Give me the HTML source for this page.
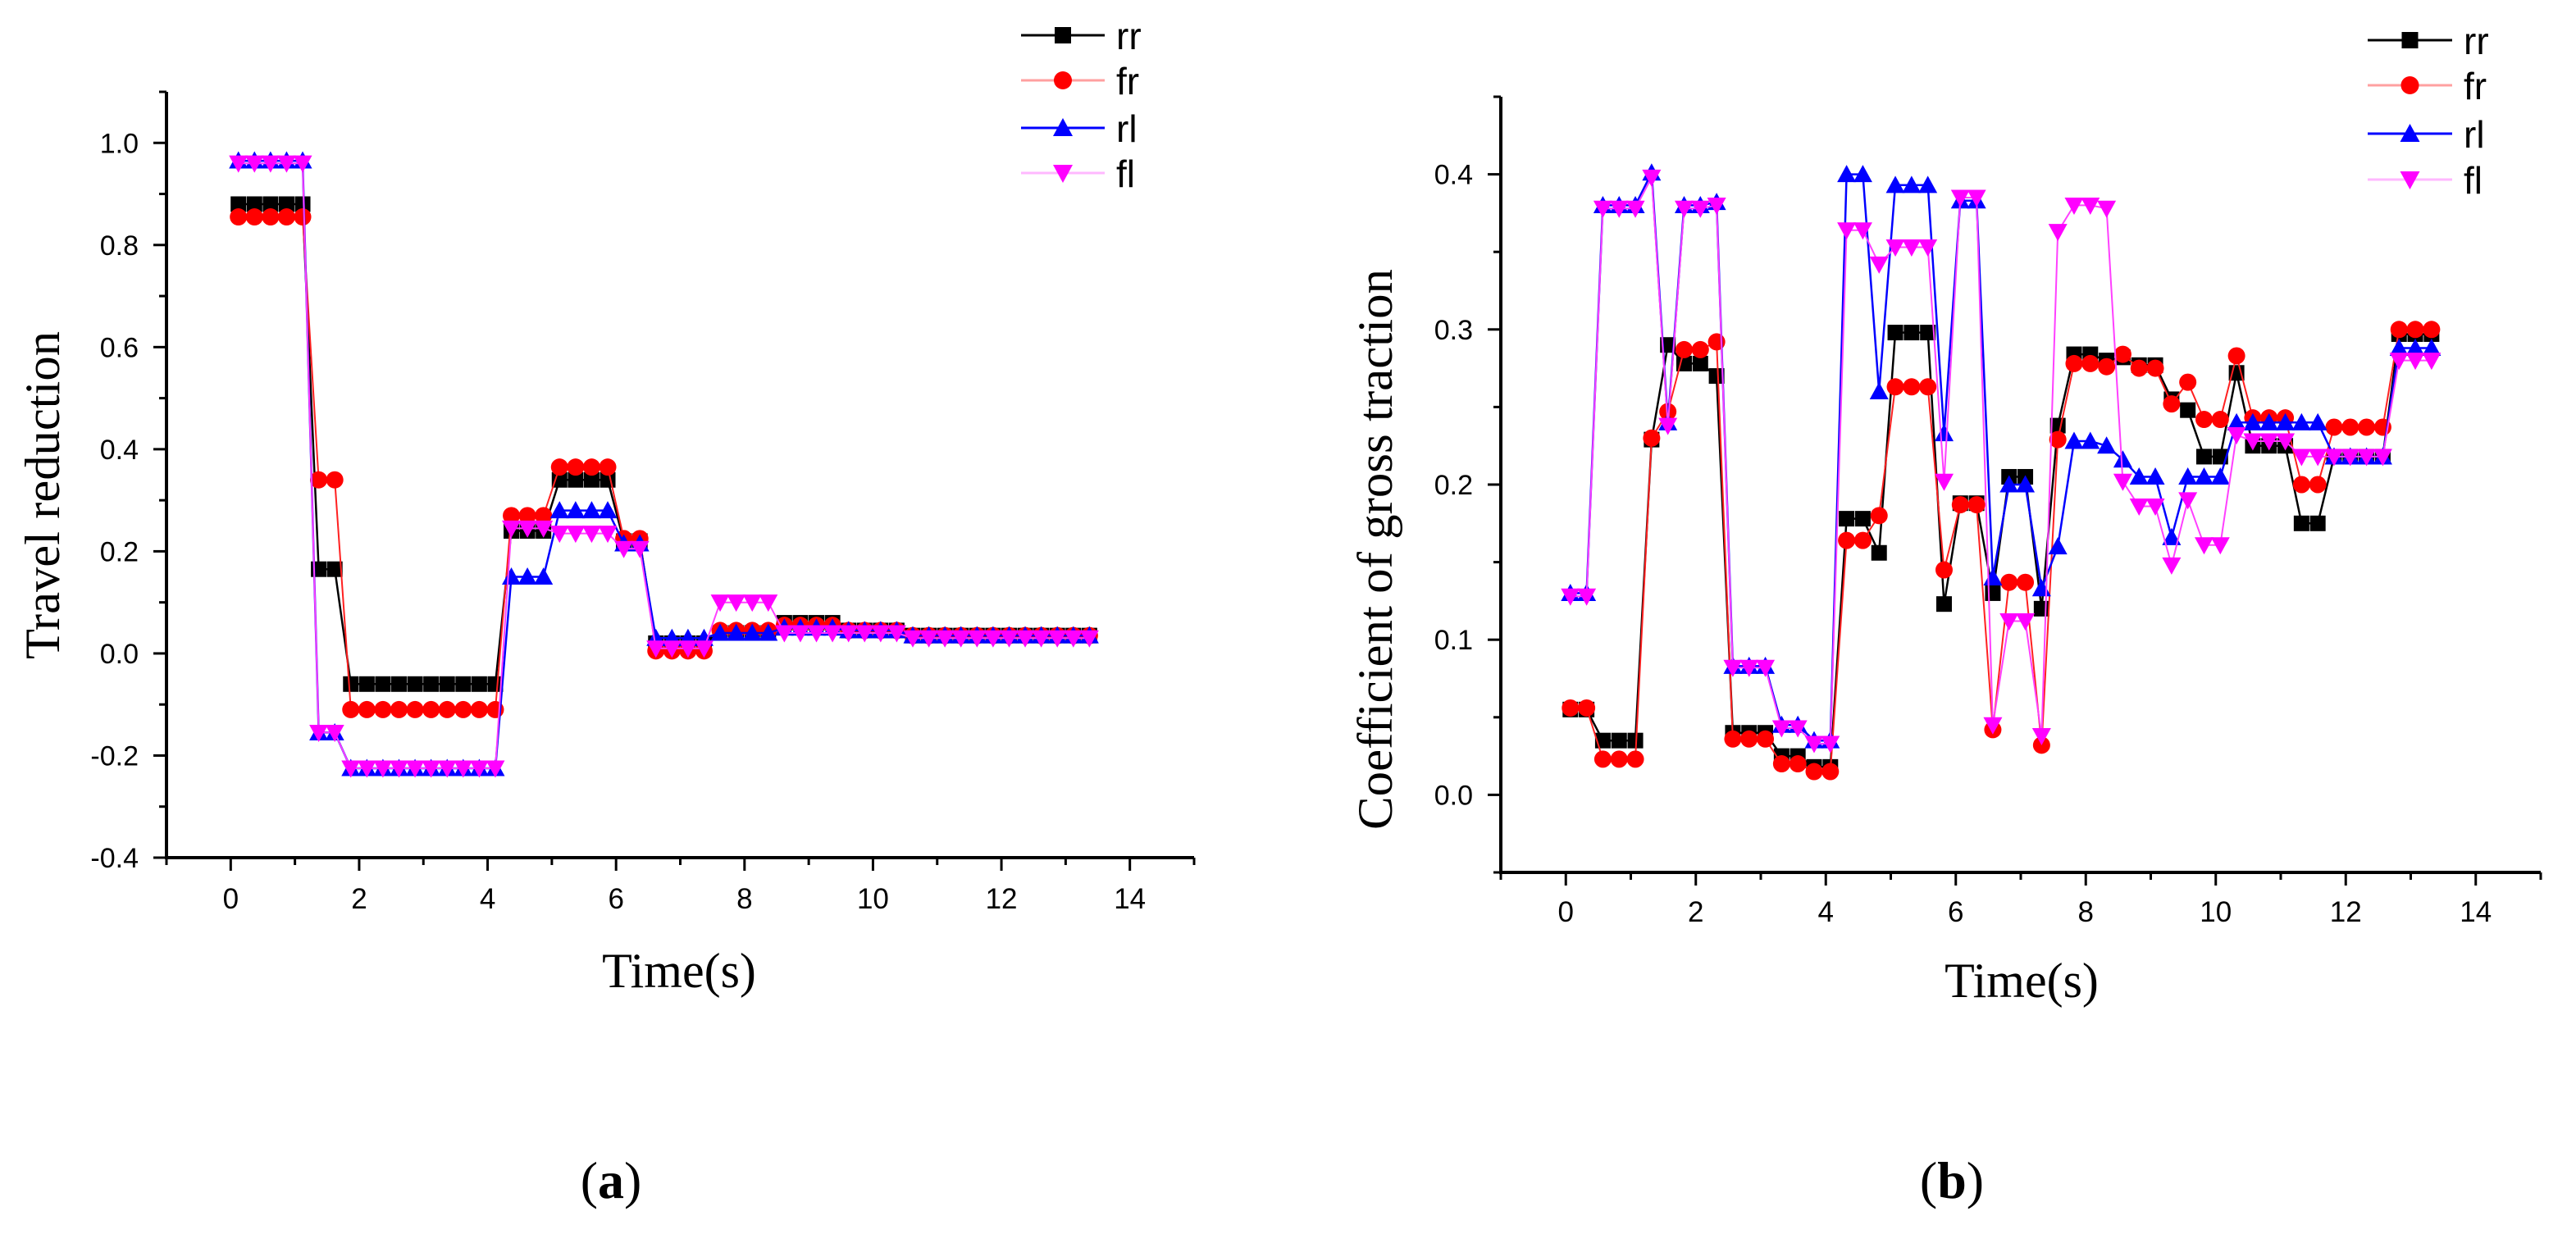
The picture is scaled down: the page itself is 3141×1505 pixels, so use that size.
<!DOCTYPE html>
<html><head><meta charset="utf-8">
<style>
html,body{margin:0;padding:0;background:#fff;}
svg{display:block;}
text{font-family:"Liberation Sans",sans-serif;}
.serif{font-family:"Liberation Serif",serif;}
</style></head>
<body>
<svg id="fig" width="3141" height="1505" viewBox="0 0 3141 1505" xmlns="http://www.w3.org/2000/svg">
<rect x="0" y="0" width="3141" height="1505" fill="#fff"/>
<g id="chartA"></g>
<g id="chartB"></g>
<text class="serif" x="745" y="1461" font-size="64" text-anchor="middle">(<tspan font-weight="bold">a</tspan>)</text>
<text class="serif" x="2380" y="1461" font-size="64" text-anchor="middle">(<tspan font-weight="bold">b</tspan>)</text>
</svg>
<script>
const seriesNames = ["rr","fr","rl","fl"];
const timeA = [0.12,0.37,0.62,0.87,1.12,1.37,1.62,1.87,2.12,2.37,2.62,2.87,3.12,3.37,3.62,3.87,4.12,4.37,4.62,4.87,5.12,5.37,5.62,5.87,6.12,6.37,6.62,6.87,7.12,7.37,7.62,7.87,8.12,8.37,8.62,8.87,9.12,9.37,9.62,9.87,10.12,10.37,10.62,10.87,11.12,11.37,11.62,11.87,12.12,12.37,12.62,12.87,13.12,13.37];
const rrA = [0.88,0.88,0.88,0.88,0.88,0.165,0.165,-0.06,-0.06,-0.06,-0.06,-0.06,-0.06,-0.06,-0.06,-0.06,-0.06,0.24,0.24,0.24,0.34,0.34,0.34,0.34,0.22,0.22,0.02,0.02,0.02,0.02,0.04,0.04,0.04,0.04,0.06,0.06,0.06,0.06,0.045,0.045,0.045,0.045,0.035,0.035,0.035,0.035,0.035,0.035,0.035,0.035,0.035,0.035,0.035,0.035];
const frA = [0.855,0.855,0.855,0.855,0.855,0.34,0.34,-0.11,-0.11,-0.11,-0.11,-0.11,-0.11,-0.11,-0.11,-0.11,-0.11,0.27,0.27,0.27,0.365,0.365,0.365,0.365,0.225,0.225,0.005,0.005,0.005,0.005,0.045,0.045,0.045,0.045,0.055,0.055,0.055,0.055,0.045,0.045,0.045,0.045,0.035,0.035,0.035,0.035,0.035,0.035,0.035,0.035,0.035,0.035,0.035,0.035];
const rlA = [0.965,0.965,0.965,0.965,0.965,-0.155,-0.155,-0.225,-0.225,-0.225,-0.225,-0.225,-0.225,-0.225,-0.225,-0.225,-0.225,0.15,0.15,0.15,0.28,0.28,0.28,0.28,0.215,0.215,0.03,0.03,0.03,0.03,0.04,0.04,0.04,0.04,0.05,0.05,0.05,0.05,0.045,0.045,0.045,0.045,0.035,0.035,0.035,0.035,0.035,0.035,0.035,0.035,0.035,0.035,0.035,0.035];
const flA = [0.96,0.96,0.96,0.96,0.96,-0.155,-0.155,-0.225,-0.225,-0.225,-0.225,-0.225,-0.225,-0.225,-0.225,-0.225,-0.225,0.245,0.245,0.245,0.235,0.235,0.235,0.235,0.205,0.205,0.01,0.01,0.01,0.01,0.1,0.1,0.1,0.1,0.04,0.04,0.04,0.04,0.04,0.04,0.04,0.04,0.03,0.03,0.03,0.03,0.03,0.03,0.03,0.03,0.03,0.03,0.03,0.03];
const timeB = [0.07,0.32,0.57,0.82,1.07,1.32,1.57,1.82,2.07,2.32,2.57,2.82,3.07,3.32,3.57,3.82,4.07,4.32,4.57,4.82,5.07,5.32,5.57,5.82,6.07,6.32,6.57,6.82,7.07,7.32,7.57,7.82,8.07,8.32,8.57,8.82,9.07,9.32,9.57,9.82,10.07,10.32,10.57,10.82,11.07,11.32,11.57,11.82,12.07,12.32,12.57,12.82,13.07,13.32];
const rrB = [0.055,0.055,0.035,0.035,0.035,0.229,0.29,0.278,0.278,0.27,0.04,0.04,0.04,0.025,0.025,0.018,0.018,0.178,0.178,0.156,0.298,0.298,0.298,0.123,0.188,0.188,0.13,0.205,0.205,0.12,0.238,0.284,0.284,0.28,0.282,0.277,0.277,0.255,0.248,0.218,0.218,0.272,0.225,0.225,0.225,0.175,0.175,0.218,0.218,0.218,0.218,0.297,0.297,0.297];
const frB = [0.056,0.056,0.023,0.023,0.023,0.23,0.247,0.287,0.287,0.292,0.036,0.036,0.036,0.02,0.02,0.015,0.015,0.164,0.164,0.18,0.263,0.263,0.263,0.145,0.187,0.187,0.042,0.137,0.137,0.032,0.229,0.278,0.278,0.276,0.284,0.275,0.275,0.252,0.266,0.242,0.242,0.283,0.243,0.243,0.243,0.2,0.2,0.237,0.237,0.237,0.237,0.3,0.3,0.3];
const rlB = [0.13,0.13,0.38,0.38,0.38,0.401,0.24,0.38,0.38,0.382,0.083,0.083,0.083,0.045,0.045,0.035,0.035,0.4,0.4,0.26,0.393,0.393,0.393,0.233,0.383,0.383,0.14,0.2,0.2,0.133,0.16,0.228,0.228,0.225,0.216,0.205,0.205,0.166,0.205,0.205,0.205,0.24,0.24,0.24,0.24,0.24,0.24,0.218,0.218,0.218,0.218,0.288,0.288,0.288];
const flB = [0.128,0.128,0.378,0.378,0.378,0.398,0.238,0.378,0.378,0.38,0.082,0.082,0.082,0.043,0.043,0.033,0.033,0.364,0.364,0.342,0.353,0.353,0.353,0.202,0.385,0.385,0.045,0.112,0.112,0.038,0.363,0.38,0.38,0.378,0.202,0.186,0.186,0.148,0.19,0.161,0.161,0.232,0.228,0.228,0.228,0.218,0.218,0.218,0.218,0.218,0.218,0.28,0.28,0.28];
const xTicks = [0,2,4,6,8,10,12,14];
const yTicksA = [-0.4,-0.2,0.0,0.2,0.4,0.6,0.8,1.0];
const yTickLabelsA = ["-0.4","-0.2","0.0","0.2","0.4","0.6","0.8","1.0"];
const yTicksB = [0.0,0.1,0.2,0.3,0.4];
const yTickLabelsB = ["0.0","0.1","0.2","0.3","0.4"];

const NS = "http://www.w3.org/2000/svg";
function mk(tag, attrs, parent){
  const e = document.createElementNS(NS, tag);
  for (const k in attrs) e.setAttribute(k, attrs[k]);
  parent.appendChild(e); return e;
}
const styles = {
  rr:{line:"#000000", fill:"#000000", w:2.5, legLine:"#000000"},
  fr:{line:"#ff2020", fill:"#ff0000", w:2, legLine:"#ffa0a0"},
  rl:{line:"#0000ff", fill:"#0000ff", w:2.5, legLine:"#0000ff"},
  fl:{line:"#ff40ff", fill:"#ff00ff", w:2, legLine:"#ffb8ff"}
};
function marker(g, name, cx, cy, s){
  const st = styles[name]; let m;
  if (name==="rr") m = mk("rect",{x:cx-s/2,y:cy-s/2,width:s,height:s,fill:st.fill},g);
  else if (name==="fr") m = mk("circle",{cx:cx,cy:cy,r:s/2+1,fill:st.fill},g);
  else if (name==="rl") m = mk("polygon",{points:`${cx},${cy-s/2-2} ${cx-s/2-2},${cy+s/2} ${cx+s/2+2},${cy+s/2}`,fill:st.fill},g);
  else m = mk("polygon",{points:`${cx},${cy+s/2+2} ${cx-s/2-2},${cy-s/2} ${cx+s/2+2},${cy-s/2}`,fill:st.fill},g);
  
  
}
function drawChart(cfg){
  const g = document.getElementById(cfg.id);
  const X = t => cfg.x0 + (t - cfg.xmin) / (cfg.xmax - cfg.xmin) * (cfg.x1 - cfg.x0);
  const Y = v => cfg.yb - (v - cfg.ymin) / (cfg.ymax - cfg.ymin) * (cfg.yb - cfg.yt);
  // series
  cfg.series.forEach((vals, si) => {
    const name = seriesNames[si];
    const sg = mk("g",{},g);
    
    
    const pts = vals.map((v,i)=>X(cfg.times[i]).toFixed(1)+","+Y(v).toFixed(1)).join(" ");
    const pl = mk("polyline",{points:pts,fill:"none",stroke:styles[name].line,"stroke-width":styles[name].w},sg);
    
    
    vals.forEach((v,i)=>marker(sg,name,X(cfg.times[i]),Y(v),19));
  });
  // axes
  const ax = mk("path",{d:`M${cfg.x0},${cfg.yt} L${cfg.x0},${cfg.yb} L${cfg.x1},${cfg.yb}`,fill:"none",stroke:"#000","stroke-width":4},g);
  
  
  for (let t = cfg.xmin; t <= cfg.xmax; t++){
    const major = (t % 2 === 0);
    mk("line",{x1:X(t),x2:X(t),y1:cfg.yb,y2:cfg.yb+(major?16:9),stroke:"#000","stroke-width":3},g);
  }
  xTicks.forEach(t=>{
    const tx = mk("text",{x:X(t),y:cfg.xlabY,"font-size":35,"text-anchor":"middle"},g);
    tx.textContent = String(t);
    
    
  });
  const nMinor = Math.round((cfg.ymax - cfg.ymin) / cfg.minorStep);
  for (let k = 0; k <= nMinor; k++){
    const v = cfg.ymin + k * cfg.minorStep;
    const major = cfg.yTicks.some(tv => Math.abs(tv - v) < 1e-6);
    mk("line",{x1:cfg.x0-(major?16:9),x2:cfg.x0,y1:Y(v),y2:Y(v),stroke:"#000","stroke-width":3},g);
  }
  cfg.yTicks.forEach((v,i)=>{
    const tx = mk("text",{x:cfg.x0-34,y:Y(v)+12,"font-size":34,"text-anchor":"end"},g);
    tx.textContent = cfg.yLabels[i];
    
    
  });
  // titles
  const xt = mk("text",{x:cfg.xTitleX,y:cfg.xTitleY,"font-size":60,"text-anchor":"middle",class:"serif"},g);
  xt.textContent = "Time(s)";
  
  
  const yt = mk("text",{x:0,y:0,"font-size":60,"text-anchor":"middle",class:"serif",transform:`translate(${cfg.yTitleX},${cfg.yTitleY}) rotate(-90)`,textLength:cfg.yTitleLen,lengthAdjust:"spacingAndGlyphs"},g);
  yt.textContent = cfg.yTitle;
  
  
  // legend
  const lg = mk("g",{},g);
  
  
  seriesNames.forEach((name,i)=>{
    const y = cfg.legRows[i];
    const eg = mk("g",{},lg);
    
    
    mk("line",{x1:cfg.legX0,x2:cfg.legX1,y1:y,y2:y,stroke:styles[name].legLine,"stroke-width":3},eg);
    marker(eg,name,(cfg.legX0+cfg.legX1)/2,y,20);
    const t = mk("text",{x:cfg.legX1+14,y:y+17,"font-size":46},eg);
    t.textContent = name;
  });
}
drawChart({id:"chartA", times:timeA, series:[rrA,frA,rlA,flA],
  x0:203, x1:1456, xmin:-1, xmax:15, yt:112, yb:1046, ymin:-0.4, ymax:1.1,
  yTicks:yTicksA, yLabels:yTickLabelsA, minorStep:0.1, xlabY:1108,
  xTitleX:828, xTitleY:1204, yTitle:"Travel reduction", yTitleX:72, yTitleY:604, yTitleLen:400,
  legX0:1245, legX1:1347, legRows:[43,98,156,211]});
drawChart({id:"chartB", times:timeB, series:[rrB,frB,rlB,flB],
  x0:1830, x1:3098, xmin:-1, xmax:15, yt:118, yb:1064, ymin:-0.05, ymax:0.45,
  yTicks:yTicksB, yLabels:yTickLabelsB, minorStep:0.05, xlabY:1124,
  xTitleX:2465, xTitleY:1216, yTitle:"Coefficient of gross traction", yTitleX:1697, yTitleY:670, yTitleLen:684,
  legX0:2887, legX1:2990, legRows:[49,104,163,219]});
</script>
</body></html>
